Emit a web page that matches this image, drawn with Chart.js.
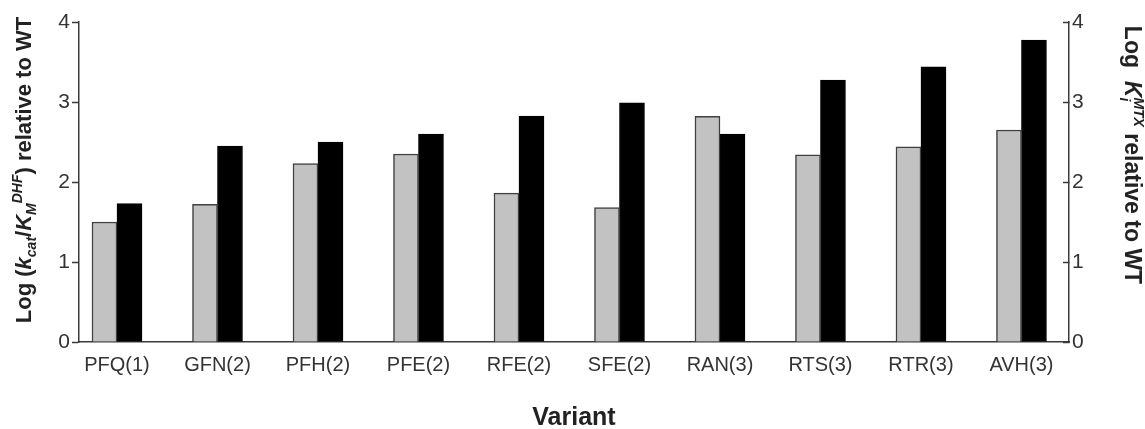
<!DOCTYPE html>
<html>
<head>
<meta charset="utf-8">
<script src="https://cdn.jsdelivr.net/npm/chart.js@4"></script>
<style>
  html, body { margin: 0; padding: 0; background: #fff; }
  #wrap { width: 1145px; height: 429px; position: relative; }
</style>
</head>
<body>
<div id="wrap"><canvas id="c" width="1145" height="429"></canvas></div>
<script>
const categories = ['PFQ(1)', 'GFN(2)', 'PFH(2)', 'PFE(2)', 'RFE(2)', 'SFE(2)', 'RAN(3)', 'RTS(3)', 'RTR(3)', 'AVH(3)'];
const logKcatKm = [1.50, 1.72, 2.23, 2.35, 1.86, 1.68, 2.82, 2.34, 2.44, 2.65];
const logKi = [1.73, 2.45, 2.50, 2.60, 2.825, 2.99, 2.60, 3.275, 3.44, 3.775];
const yTicks = [0, 1, 2, 3, 4];

const FONT = "'Liberation Sans', Arial, Helvetica, sans-serif";
const AXIS_COLOR = '#3a3a3a';
const TEXT_COLOR = '#222';

function fontOf(s) {
  return (s.italic ? 'italic ' : '') + 'bold ' + s.size + 'px ' + FONT;
}

function drawRich(ctx, segs, x, y, angle) {
  ctx.save();
  ctx.textBaseline = 'alphabetic';
  ctx.textAlign = 'left';
  const pos = [];
  let lastX = 0, maxEnd = 0;
  segs.forEach((s) => {
    ctx.font = fontOf(s);
    const w = ctx.measureText(s.t).width;
    let px;
    if (s.stack) { px = lastX; } else { px = maxEnd; lastX = px; }
    pos.push(px);
    maxEnd = Math.max(maxEnd, px + w);
  });
  const total = maxEnd;
  ctx.translate(x, y);
  ctx.rotate(angle);
  segs.forEach((s, i) => {
    ctx.font = fontOf(s);
    ctx.fillStyle = TEXT_COLOR;
    ctx.fillText(s.t, pos[i] - total / 2, s.dy || 0);
  });
  ctx.restore();
}

const titlePlugin = {
  id: 'titles',
  afterDraw(chart) {
    const ctx = chart.ctx;
    const F = 22, S = 14;
    drawRich(ctx, [
      { t: 'Log (', size: F },
      { t: 'k', size: F, italic: true },
      { t: 'cat', size: S, italic: true, dy: 5 },
      { t: '/', size: F },
      { t: 'K', size: F, italic: true },
      { t: 'M', size: S, italic: true, dy: 5 },
      { t: 'DHF', size: S, italic: true, dy: -9 },
      { t: ') relative to WT', size: F }
    ], 31, 170, -Math.PI / 2);
    drawRich(ctx, [
      { t: 'Log  ', size: 23 },
      { t: 'K', size: 23, italic: true },
      { t: 'i', size: S, italic: true, dy: 5 },
      { t: 'MTX', size: S, italic: true, dy: -9, stack: true },
      { t: ' relative to WT', size: 23 }
    ], 1125, 155, Math.PI / 2);
    ctx.save();
    ctx.font = 'bold 25px ' + FONT;
    ctx.fillStyle = TEXT_COLOR;
    ctx.textAlign = 'center';
    ctx.textBaseline = 'alphabetic';
    ctx.fillText('Variant', 574, 425);
    ctx.restore();
  }
};

new Chart(document.getElementById('c'), {
  type: 'bar',
  data: {
    datasets: [
      {
        label: 'Log (kcat/KM DHF) relative to WT',
        data: logKcatKm.map((v, i) => ({ x: i, y: v })),
        backgroundColor: '#c2c2c2',
        borderColor: '#404040',
        borderWidth: 1.5,
        borderSkipped: 'bottom',
        barThickness: 25,
        yAxisID: 'y'
      },
      {
        label: 'Log Ki MTX relative to WT',
        data: logKi.map((v, i) => ({ x: i, y: v })),
        backgroundColor: '#000',
        borderColor: '#000',
        borderWidth: 1,
        barThickness: 25,
        yAxisID: 'y2'
      }
    ]
  },
  options: {
    responsive: false,
    animation: false,
    devicePixelRatio: 1,
    layout: { padding: { top: 22, left: 0, right: 0, bottom: 0 } },
    plugins: { legend: { display: false }, tooltip: { enabled: false }, title: { display: false } },
    scales: {
      x: {
        type: 'linear',
        offset: false,
        min: -0.378,
        max: 9.473,
        afterBuildTicks: (scale) => { scale.ticks = categories.map((_, i) => ({ value: i })); },
        afterFit: (scale) => { scale.height = 87; },
        ticks: {
          callback: (v) => categories[v] !== undefined ? categories[v] : '',
          font: { family: FONT, size: 20 },
          color: '#333',
          padding: 11,
          maxRotation: 0,
          autoSkip: false
        },
        grid: { display: true, offset: false, drawOnChartArea: false, drawTicks: false, color: 'transparent' },
        border: { display: true, color: AXIS_COLOR, width: 1.5 }
      },
      y: {
        position: 'left',
        min: 0, max: 4,
        afterBuildTicks: (scale) => { scale.ticks = yTicks.map(v => ({ value: v })); },
        afterFit: (scale) => { scale.width = 79; },
        ticks: { font: { family: FONT, size: 21 }, color: '#333', padding: 2 },
        grid: { drawOnChartArea: false, drawTicks: true, tickLength: 7, tickColor: AXIS_COLOR, tickWidth: 1.5 },
        border: { display: true, color: AXIS_COLOR, width: 1.5 }
      },
      y2: {
        position: 'right',
        min: 0, max: 4,
        afterBuildTicks: (scale) => { scale.ticks = yTicks.map(v => ({ value: v })); },
        afterFit: (scale) => { scale.width = 76; },
        ticks: { font: { family: FONT, size: 21 }, color: '#333', padding: 9 },
        grid: { drawOnChartArea: false, drawTicks: true, tickLength: -6, tickColor: AXIS_COLOR, tickWidth: 1.5 },
        border: { display: true, color: AXIS_COLOR, width: 1.5 }
      }
    }
  },
  plugins: [titlePlugin]
});
</script>
</body>
</html>
